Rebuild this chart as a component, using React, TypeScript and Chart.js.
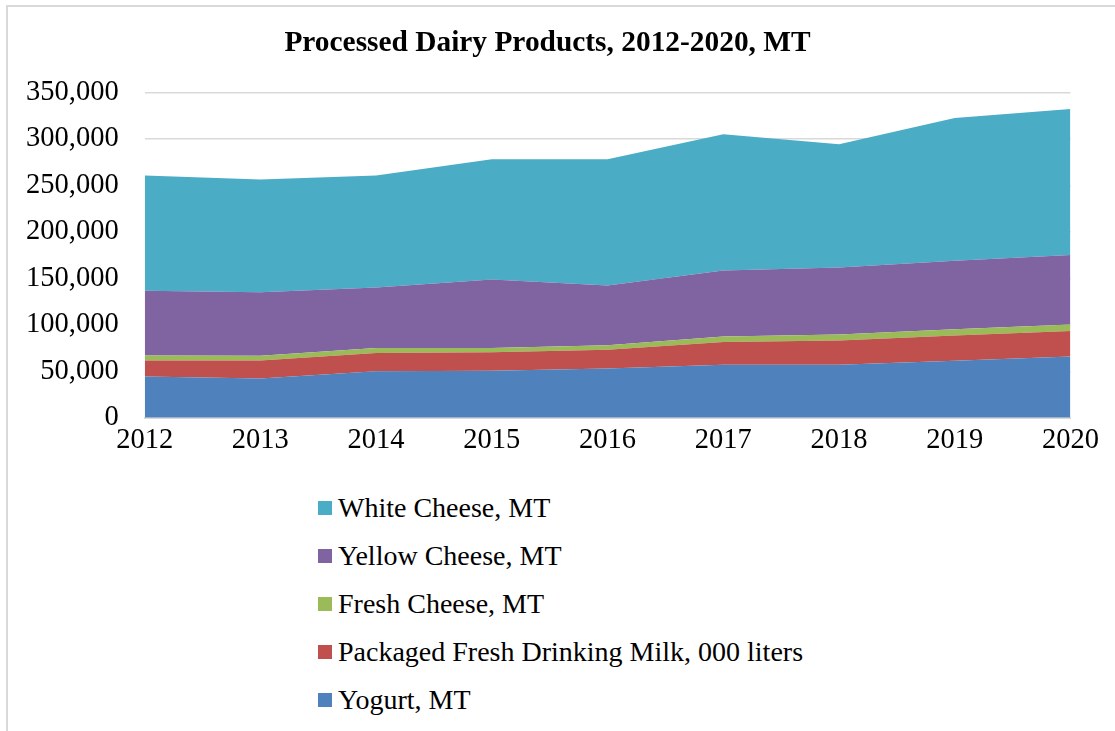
import React, { useEffect, useRef } from "react";
import { Chart, registerables } from "chart.js";

Chart.register(...registerables);

const years = ["2012", "2013", "2014", "2015", "2016", "2017", "2018", "2019", "2020"];
const yogurt = [44400, 42200, 50100, 50500, 53000, 57000, 57000, 61400, 66000];
const drinkingMilk = [17300, 19500, 19500, 19900, 20200, 24500, 26000, 27000, 27400];
const freshCheese = [5400, 5100, 5400, 4600, 4700, 5800, 6500, 6900, 7000];
const yellowCheese = [69600, 68200, 65000, 73700, 64300, 71100, 72200, 73600, 74600];
const whiteCheese = [123900, 121200, 120600, 129200, 135700, 146600, 132300, 153400, 157000];

const seriesNames = [
  "Yogurt, MT",
  "Packaged Fresh Drinking Milk, 000 liters",
  "Fresh Cheese, MT",
  "Yellow Cheese, MT",
  "White Cheese, MT",
];
const seriesColors = ["#4F81BD", "#C0504D", "#9BBB59", "#8064A2", "#4BACC6"];
const seriesValues = [yogurt, drinkingMilk, freshCheese, yellowCheese, whiteCheese];

const chartTitle = "Processed Dairy Products, 2012-2020, MT";
const yMax = 350000;
const yStep = 50000;

const SERIF = "'Liberation Serif', 'Times New Roman', serif";

export default function App() {
  const canvasRef = useRef<HTMLCanvasElement | null>(null);

  useEffect(() => {
    if (!canvasRef.current) return;
    const chart = new Chart(canvasRef.current, {
      type: "line",
      data: {
        labels: years,
        datasets: seriesValues.map((vals, i) => ({
          label: seriesNames[i],
          data: vals,
          backgroundColor: seriesColors[i],
          borderColor: seriesColors[i],
          borderWidth: 0,
          pointRadius: 0,
          pointHoverRadius: 0,
          tension: 0,
          fill: i === 0 ? "origin" : "-1",
        })),
      },
      options: {
        responsive: false,
        animation: false,
        layout: { padding: { left: 0, right: 10, top: 0, bottom: 12 } },
        plugins: {
          legend: { display: false },
          tooltip: { enabled: false },
          title: {
            display: true,
            text: chartTitle,
            color: "#000",
            font: { family: SERIF, size: 29.4, weight: "bold" },
            padding: { top: 26, bottom: 31 },
          },
        },
        scales: {
          x: {
            offset: false,
            grid: { display: false, drawTicks: false },
            border: { display: true, color: "#d9d9d9", width: 2 },
            ticks: {
              color: "#000",
              font: { family: SERIF, size: 28.5 },
              padding: 6,
              maxRotation: 0,
              autoSkip: false,
            },
          },
          y: {
            stacked: true,
            min: 0,
            max: yMax,
            grid: { color: "#d9d9d9", lineWidth: 1.4, drawTicks: false },
            border: { display: false },
            ticks: {
              stepSize: yStep,
              color: "#000",
              padding: 26,
              font: { family: SERIF, size: 28.5 },
              callback: (v: any) => Number(v).toLocaleString("en-US"),
            },
          },
        },
      },
    });
    return () => chart.destroy();
  }, []);

  const legendOrder = [4, 3, 2, 1, 0];

  return (
    <div
      style={{
        position: "fixed",
        left: 0,
        top: 0,
        width: 1115,
        height: 731,
        overflow: "hidden",
        background: "#fff",
      }}
    >
      <div
        style={{
          position: "absolute",
          left: 6,
          top: 5,
          width: 1200,
          height: 800,
          borderLeft: "2px solid #d9d9d9",
          borderTop: "2px solid #d9d9d9",
        }}
      />
      <canvas
        ref={canvasRef}
        width={1105}
        height={476}
        style={{ position: "absolute", left: 0, top: 0 }}
      />
      {legendOrder.map((idx, k) => (
        <div
          key={idx}
          style={{
            position: "absolute",
            left: 318,
            top: 508 + k * 48 - 20,
            height: 40,
            display: "flex",
            alignItems: "center",
            fontFamily: SERIF,
            fontSize: 28,
            color: "#000",
            whiteSpace: "nowrap",
          }}
        >
          <span
            style={{
              display: "inline-block",
              width: 14,
              height: 14,
              background: seriesColors[idx],
              marginRight: 6,
            }}
          />
          <span>{seriesNames[idx]}</span>
        </div>
      ))}
    </div>
  );
}
